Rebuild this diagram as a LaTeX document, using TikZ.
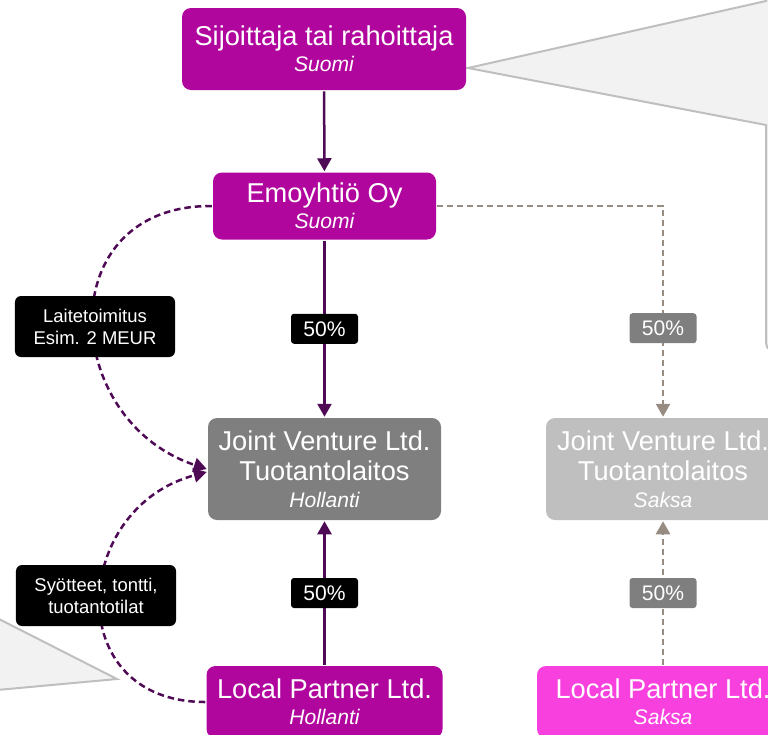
\documentclass[tikz,border=0pt]{standalone}
\usepackage{fontspec}
\setmainfont{Liberation Sans}
\usetikzlibrary{arrows.meta, positioning}
\definecolor{firmpurple}{HTML}{B0069E}
\definecolor{arrowpurple}{HTML}{4E0A55}
\definecolor{jvgrey}{HTML}{7F7F7F}
\definecolor{jvlight}{HTML}{BFBFBF}
\definecolor{partnerpink}{HTML}{F840DF}
\definecolor{dashgrey}{HTML}{968C82}
\definecolor{calloutfill}{HTML}{F2F2F2}
\definecolor{calloutline}{HTML}{BFBFBF}
\newcommand{\maa}[1]{\\[-2.5pt]{\fontsize{12}{14}\selectfont\itshape #1}}

\begin{document}
\begin{tikzpicture}[
    x=0.2mm, y=-0.2mm,
    >={Triangle[length=2.6mm,width=2.8mm]},
    line width=0.5mm,
    box/.style={
        rectangle, rounded corners=1.8mm,
        align=center, text=white, inner sep=1mm,
        font=\fontsize{15.5}{17.5}\selectfont
    },
    firm/.style={box, fill=firmpurple},
    jv/.style={box, fill=jvgrey},
    jvfaded/.style={box, fill=jvlight},
    partner/.style={box, fill=partnerpink},
    arr/.style={->, draw=arrowpurple},
    flow/.style={->, draw=arrowpurple, dash pattern=on 1.3mm off 0.8mm},
    darr/.style={->, draw=dashgrey, dash pattern=on 1.2mm off 0.8mm},
    pct/.style={rectangle, rounded corners=0.6mm, fill=black, text=white,
        minimum width=13.4mm, minimum height=6mm, inner sep=0.5mm,
        font=\fontsize{12}{14}\selectfont},
    pctgrey/.style={pct, fill=jvgrey},
    lbl/.style={rectangle, rounded corners=1.2mm, fill=black, text=white,
        align=center, minimum width=32mm, minimum height=12.2mm, inner sep=0.5mm,
        font=\fontsize{10.5}{12.5}\selectfont},
    callout/.style={fill=calloutfill, draw=calloutline, line width=0.4mm}
]
\useasboundingbox (0,0) rectangle (768,734);
\clip (0,0) rectangle (768,734);

% Callouts (cut off by the frame)
\draw[callout] (468,68) -- (766,125) -- (766,335) .. controls (766,350) .. (781,350)
    -- (900,350) -- (900,-100) -- (766,-100) -- (766,1) -- cycle;
\draw[callout] (117,679) -- (-3,618) -- (-3,560) -- (-100,560) -- (-100,780)
    -- (-3,780) -- (-3,690) -- cycle;

% Companies
\node[firm]    (sij) at (324,49)    [minimum width=56.8mm, minimum height=16.4mm]
    {Sijoittaja tai rahoittaja\maa{Suomi}};
\node[firm]    (emo) at (324.5,206) [minimum width=44.6mm, minimum height=13.4mm]
    {Emoyhtiö Oy\maa{Suomi}};
\node[jv]      (jvh) at (324.5,469)  [minimum width=46.6mm, minimum height=20.4mm]
    {Joint Venture Ltd.\\Tuotantolaitos\maa{Hollanti}};
\node[jvfaded] (jvs) at (663,469)    [minimum width=46.8mm, minimum height=20.4mm]
    {Joint Venture Ltd.\\Tuotantolaitos\maa{Saksa}};
\node[firm]    (lph) at (324.5,702)  [minimum width=47.2mm, minimum height=14.4mm]
    {Local Partner Ltd.\maa{Hollanti}};
\node[partner] (lps) at (663,702)    [minimum width=50.4mm, minimum height=14.4mm]
    {Local Partner Ltd.\maa{Saksa}};

% Ownership
\draw[arr] (sij) -- (emo);
\draw[arr] (emo) -- node[pct] {50\%} (jvh);
\draw[arr] (lph) -- node[pct] {50\%} (jvh);
\draw[darr] (emo.east) -| node[pctgrey, pos=0.79] {50\%} (jvs.north);
\draw[darr] (lps) -- node[pctgrey] {50\%} (jvs);

% Deliveries
\draw[flow] (emo.west) .. controls (50,205) and (60,420) .. (jvh.west);
\draw[flow] (lph.west) .. controls (60,702) and (71,508) .. ([yshift=-0.6mm]jvh.west);
\node[lbl] (toimitus) at (95,326.5) {Laitetoimitus\\Esim. 2 MEUR};
\node[lbl] (syotteet) at (96,595.5) {Syötteet, tontti,\\tuotantotilat};

\end{tikzpicture}
\end{document}
